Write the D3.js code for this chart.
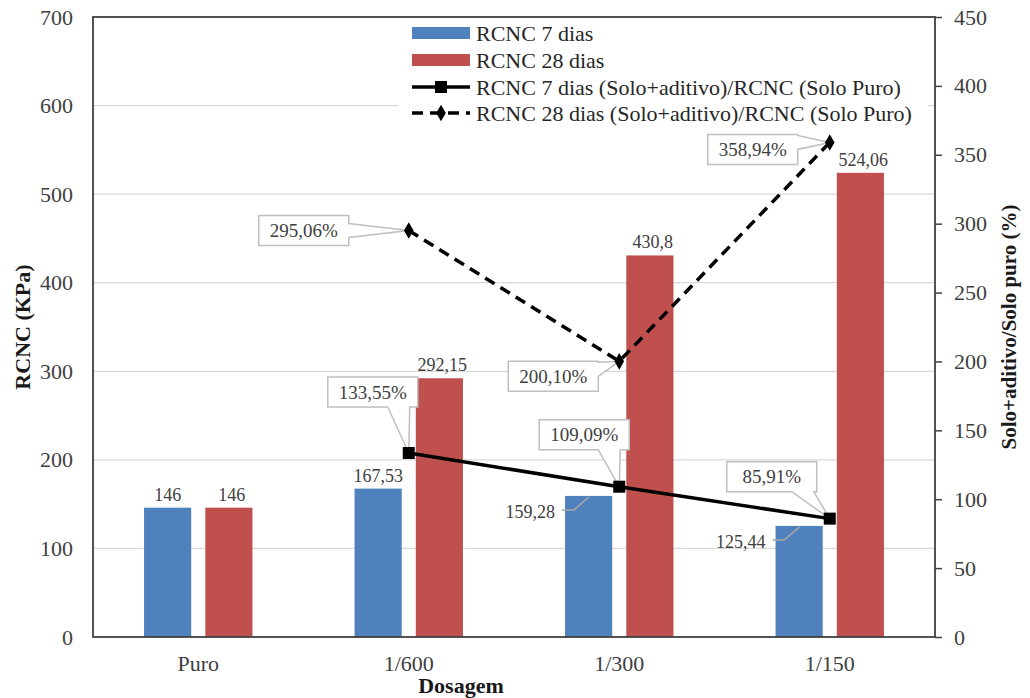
<!DOCTYPE html>
<html>
<head>
<meta charset="utf-8">
<script src="https://cdn.jsdelivr.net/npm/d3@7/dist/d3.min.js"></script>
<style>
  html, body { margin: 0; padding: 0; background: #fff; }
  svg { display: block; font-family: "Liberation Serif", "Times New Roman", serif; }
</style>
</head>
<body>
<svg id="chart" width="1030" height="698"></svg>
<script>
// ---------- DATA ----------
const categories = ["Puro", "1/600", "1/300", "1/150"];
const rcnc7 = [146, 167.53, 159.28, 125.44];
const rcnc28 = [146, 292.15, 430.8, 524.06];
const ratio7 = [null, 133.55, 109.09, 85.91];
const ratio28 = [null, 295.06, 200.10, 358.94];
const leftTicks = [0, 100, 200, 300, 400, 500, 600, 700];
const rightTicks = [0, 50, 100, 150, 200, 250, 300, 350, 400, 450];
const legendLabels = ["RCNC 7 dias", "RCNC 28 dias",
  "RCNC 7 dias (Solo+aditivo)/RCNC (Solo Puro)",
  "RCNC 28 dias (Solo+aditivo)/RCNC (Solo Puro)"];

// ---------- LAYOUT ----------
const plot = { left: 93, right: 935, top: 17, bottom: 637 };
const blue = "#4f81bd", red = "#c0504d";
const svg = d3.select("#chart");

const x = d3.scaleBand().domain(categories).range([plot.left, plot.right]).paddingInner(0).paddingOuter(0);
const bw = x.bandwidth();
const xs = d3.scaleBand().domain(["7", "28"]).range([bw * 0.2425, bw * 0.7575]).paddingInner(0.23).paddingOuter(0);
const yL = d3.scaleLinear().domain([0, 700]).range([plot.bottom, plot.top]);
const yR = d3.scaleLinear().domain([0, 450]).range([plot.bottom, plot.top]);
const fmt = v => String(v).replace(".", ",");
const fmtPct = v => v.toFixed(2).replace(".", ",") + "%";

// gridlines
svg.append("g").selectAll("line").data(leftTicks.filter(t => t > 0 && t < 700)).join("line")
  .attr("x1", plot.left).attr("x2", plot.right)
  .attr("y1", d => yL(d)).attr("y2", d => yL(d))
  .attr("stroke", "#d9d9d9").attr("stroke-width", 1.2);

// bars
const barData = [];
categories.forEach((c, i) => {
  barData.push({ c, s: "7", v: rcnc7[i], color: blue, i });
  barData.push({ c, s: "28", v: rcnc28[i], color: red, i });
});
svg.append("g").selectAll("rect").data(barData).join("rect")
  .attr("x", d => x(d.c) + xs(d.s))
  .attr("width", xs.bandwidth())
  .attr("y", d => yL(d.v))
  .attr("height", d => yL(0) - yL(d.v))
  .attr("fill", d => d.color);

// bar labels
const labG = svg.append("g").attr("font-size", 18).attr("fill", "#404040");
barData.forEach(d => {
  const bx = x(d.c) + xs(d.s), top = yL(d.v);
  const leader = d.s === "7" && (d.i === 2 || d.i === 3);
  if (leader) {
    labG.append("text").attr("x", bx - 10).attr("y", top + 16).attr("dy", "0.35em")
      .attr("text-anchor", "end").text(fmt(d.v));
    labG.append("path")
      .attr("d", `M${bx - 3},${top + 14} H${bx + 9} L${bx + 24},${top + 1}`)
      .attr("fill", "none").attr("stroke", "#a6a6a6").attr("stroke-width", 1.5);
  } else {
    labG.append("text").attr("x", bx + xs.bandwidth() / 2 + (d.s === "28" ? 3 : 0)).attr("y", top - 7)
      .attr("text-anchor", "middle").text(fmt(d.v));
  }
});

// axes
const axL = svg.append("g").attr("transform", `translate(${plot.left},0)`)
  .call(d3.axisLeft(yL).tickValues(leftTicks).tickSize(0).tickPadding(20).tickFormat(d3.format("d")));
const axR = svg.append("g").attr("transform", `translate(${plot.right},0)`)
  .call(d3.axisRight(yR).tickValues(rightTicks).tickSize(7).tickPadding(12).tickFormat(d3.format("d")));
const axB = svg.append("g").attr("transform", `translate(0,${plot.bottom})`)
  .call(d3.axisBottom(x).tickSize(0).tickPadding(18));
[axL, axR, axB].forEach(a => {
  a.select(".domain").remove();
  a.attr("font-family", "'Liberation Serif', 'Times New Roman', serif");
  a.selectAll("text").attr("font-size", 22).attr("fill", "#404040");
  a.selectAll("line").attr("stroke", "#404040").attr("stroke-width", 1.5);
});

// plot border
svg.append("rect").attr("x", plot.left).attr("y", plot.top)
  .attr("width", plot.right - plot.left).attr("height", plot.bottom - plot.top)
  .attr("fill", "none").attr("stroke", "#404040").attr("stroke-width", 1.8);

// lines
const pts = (arr) => arr.map((v, i) => ({ v, c: categories[i] })).filter(d => d.v !== null);
const line = d3.line().x(d => x(d.c) + bw / 2).y(d => yR(d.v));
svg.append("path").datum(pts(ratio7)).attr("d", line)
  .attr("fill", "none").attr("stroke", "#000").attr("stroke-width", 3.5);
svg.append("path").datum(pts(ratio28)).attr("d", line)
  .attr("fill", "none").attr("stroke", "#000").attr("stroke-width", 3.5).attr("stroke-dasharray", "11,7");

const diamond = d3.symbol().type(d3.symbolDiamond).size(80);

// callouts (layout offsets of box center relative to marker)
const calloutOffsets7 = [null, [-36, -61], [-35, -52], [-58, -42]];
const calloutOffsets28 = [null, [-105, 0], [-66, 15], [-77, 7]];
const boxW = 90, boxH = 30;
const cg = svg.append("g");
function callout(mx, my, off, txt) {
  const cx = mx + off[0], cy = my + off[1];
  const l = cx - boxW / 2, r = cx + boxW / 2, t = cy - boxH / 2, b = cy + boxH / 2;
  let p;
  const rx = Math.abs(mx - cx) / (boxW / 2), ry = Math.abs(my - cy) / (boxH / 2);
  if (ry >= rx && my > cy) {
    const bc = Math.max(l + 14, Math.min(r - 14, mx - 10));
    p = `M${l},${t} H${r} V${b} H${bc + 11} L${mx},${my} L${bc - 11},${b} H${l} Z`;
  } else if (mx > cx) {
    const bc = Math.max(t + 8, Math.min(b - 8, my));
    p = `M${l},${t} H${r} V${bc - 7} L${mx},${my} L${r},${bc + 7} V${b} H${l} Z`;
  } else {
    const bc = Math.max(t + 8, Math.min(b - 8, my));
    p = `M${l},${t} H${r} V${b} H${l} V${bc + 7} L${mx},${my} L${l},${bc - 7} Z`;
  }
  cg.append("path").attr("d", p).attr("fill", "#fff").attr("stroke", "#bfbfbf").attr("stroke-width", 1.5);
  cg.append("text").attr("x", cx).attr("y", cy).attr("dy", "0.35em")
    .attr("text-anchor", "middle").attr("font-size", 19).attr("fill", "#404040").text(txt);
}
ratio7.forEach((v, i) => { if (v !== null) callout(x(categories[i]) + bw / 2, yR(v), calloutOffsets7[i], fmtPct(v)); });
ratio28.forEach((v, i) => { if (v !== null) callout(x(categories[i]) + bw / 2, yR(v), calloutOffsets28[i], fmtPct(v)); });

// markers on top of callout pointers
svg.append("g").selectAll("rect").data(pts(ratio7)).join("rect")
  .attr("x", d => x(d.c) + bw / 2 - 6).attr("y", d => yR(d.v) - 6)
  .attr("width", 12).attr("height", 12).attr("fill", "#000");
svg.append("g").selectAll("path").data(pts(ratio28)).join("path")
  .attr("transform", d => `translate(${x(d.c) + bw / 2},${yR(d.v)})`)
  .attr("d", diamond).attr("fill", "#000");

// legend
const lg = svg.append("g");
lg.append("rect").attr("x", 398).attr("y", plot.top + 1).attr("width", 530).attr("height", 108).attr("fill", "#fff");
const rowsY = [33, 60, 87, 113];
legendLabels.forEach((lab, i) => {
  const yy = rowsY[i];
  if (i < 2) {
    lg.append("rect").attr("x", 412).attr("y", yy - 6).attr("width", 58).attr("height", 12)
      .attr("fill", i === 0 ? blue : red);
  } else {
    lg.append("line").attr("x1", 412).attr("x2", 470).attr("y1", yy).attr("y2", yy)
      .attr("stroke", "#000").attr("stroke-width", 3.5)
      .attr("stroke-dasharray", i === 3 ? "11,7" : null);
    if (i === 2) lg.append("rect").attr("x", 435).attr("y", yy - 6).attr("width", 12).attr("height", 12).attr("fill", "#000");
    else lg.append("path").attr("transform", `translate(441,${yy})`).attr("d", diamond).attr("fill", "#000");
  }
  lg.append("text").attr("x", 476).attr("y", yy).attr("dy", "0.35em")
    .attr("font-size", 22).attr("fill", "#262626").text(lab);
});

// axis titles
svg.append("text").attr("transform", `translate(30,${(plot.top + plot.bottom) / 2}) rotate(-90)`)
  .attr("text-anchor", "middle").attr("font-size", 22).attr("font-weight", "bold").attr("fill", "#1a1a1a")
  .text("RCNC (KPa)");
svg.append("text").attr("transform", `translate(1016,${(plot.top + plot.bottom) / 2}) rotate(-90)`)
  .attr("text-anchor", "middle").attr("font-size", 21).attr("font-weight", "bold").attr("fill", "#1a1a1a")
  .text("Solo+aditivo/Solo puro (%)");
svg.append("text").attr("x", (plot.left + plot.right) / 2 - 53).attr("y", 693)
  .attr("text-anchor", "middle").attr("font-size", 22).attr("font-weight", "bold").attr("fill", "#1a1a1a")
  .text("Dosagem");
</script>
</body>
</html>
